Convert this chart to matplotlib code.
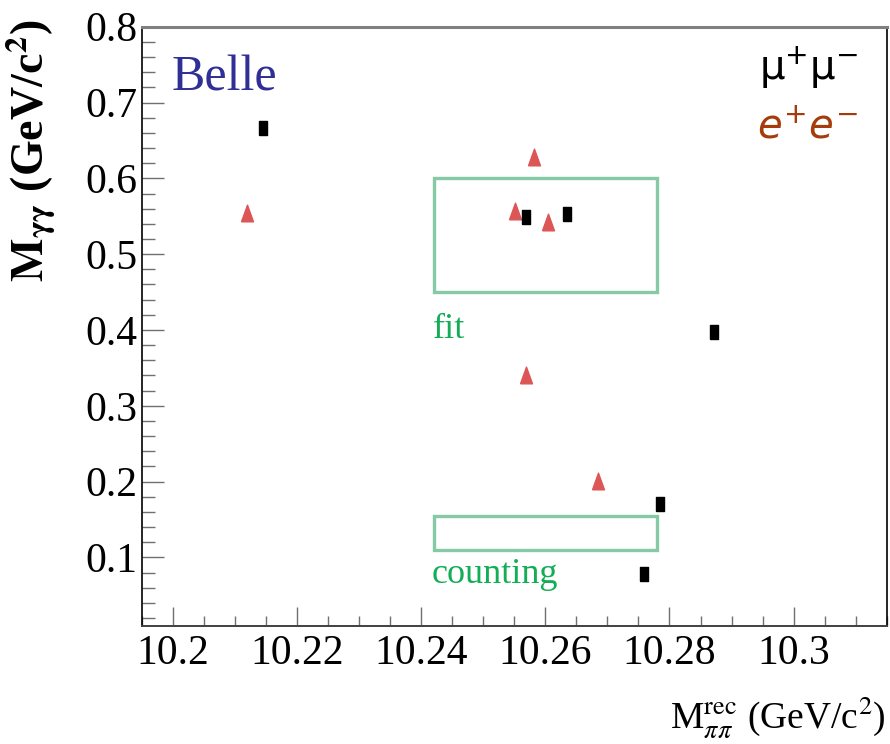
import matplotlib
matplotlib.use("Agg")
import matplotlib.pyplot as plt
from matplotlib.patches import Rectangle

plt.rcParams['mathtext.fontset'] = 'stix'
plt.rcParams['font.family'] = 'serif'
plt.rcParams['font.serif'] = ['Liberation Serif', 'DejaVu Serif']
SERIF = 'Liberation Serif'

# ---- data ----
mumu_x = [10.2145, 10.2569, 10.2635, 10.2872, 10.2784, 10.2759]
mumu_y = [0.667, 0.549, 0.553, 0.398, 0.171, 0.078]
ee_x = [10.2120, 10.2582, 10.2551, 10.2605, 10.2568, 10.2684]
ee_y = [0.554, 0.628, 0.557, 0.543, 0.340, 0.201]
fit_box = (10.242, 10.278, 0.45, 0.60)
count_box = (10.242, 10.278, 0.11, 0.155)
xticks = [10.2, 10.22, 10.24, 10.26, 10.28, 10.3]
xticklabels = ['10.2', '10.22', '10.24', '10.26', '10.28', '10.3']
yticks = [0.1, 0.2, 0.3, 0.4, 0.5, 0.6, 0.7, 0.8]
yticklabels = ['0.1', '0.2', '0.3', '0.4', '0.5', '0.6', '0.7', '0.8']

fig = plt.figure(figsize=(8.9, 7.44), dpi=100)
ax = fig.add_axes([142/890, 1-625.7/744, (886.7-142)/890, (625.7-26.7)/744])
ax.set_xlim(10.195, 10.315)
ax.set_ylim(0.01, 0.8)

rect_marker = [(-0.62, -1), (0.62, -1), (0.62, 1), (-0.62, 1), (-0.62, -1)]
tri_marker = [(-0.72, -1), (0.72, -1), (0, 1), (-0.72, -1)]

green = '#86c9a6'
for (x0, x1, y0, y1) in (fit_box, count_box):
    ax.add_patch(Rectangle((x0, y0), x1 - x0, y1 - y0, fill=False,
                           edgecolor=green, lw=2.4, zorder=2))

ax.plot(ee_x, ee_y, ls='none', marker=tri_marker, ms=12, color='#dc5656',
        mec='#dc5656', zorder=3)
ax.plot(mumu_x, mumu_y, ls='none', marker=rect_marker, ms=9.5, color='black',
        zorder=4)

ax.set_xticks(xticks)
ax.set_xticklabels(xticklabels, family=SERIF)
ax.set_yticks(yticks)
ax.set_yticklabels(yticklabels, family=SERIF)
ax.set_xticks([v / 1000 for v in range(10195, 10316, 5)], minor=True)
ax.set_yticks([v / 100 for v in range(2, 81, 2)], minor=True)

ax.tick_params(axis='both', which='both', direction='in', color='#707070',
               width=1.0, top=False, right=False)
ax.tick_params(axis='y', which='major', length=16, pad=3, labelsize=30)
ax.tick_params(axis='y', which='minor', length=9)
ax.tick_params(axis='x', which='major', length=14, pad=6, labelsize=30)
ax.tick_params(axis='x', which='minor', length=7)

for s in ('left', 'right'):
    ax.spines[s].set_color('black')
    ax.spines[s].set_linewidth(1.2)
ax.spines['top'].set_color('#808080')
ax.spines['top'].set_linewidth(2.2)
ax.spines['bottom'].set_color('#404040')
ax.spines['bottom'].set_linewidth(1.4)

# texts
ax.text(0.0403, 0.894, 'Belle', transform=ax.transAxes, fontsize=36,
        family=SERIF, color='#2f2f95', ha='left', va='baseline')
ax.text(0.9615, 0.911, r'$\mathrm{\mu^{+}\mu^{-}}$', transform=ax.transAxes,
        fontsize=29, color='black', ha='right', va='baseline',
        math_fontfamily='dejavusans')
ax.text(0.9615, 0.814, r'$e^{+}e^{-}$', transform=ax.transAxes,
        fontsize=29, color='#a43c0c', ha='right', va='baseline',
        math_fontfamily='dejavusans')
ax.text(0.3908, 0.4803, 'fit', transform=ax.transAxes, fontsize=26,
        family=SERIF, color='#12ae55', ha='left', va='baseline')
ax.text(0.3894, 0.0713, 'counting', transform=ax.transAxes, fontsize=26,
        family=SERIF, color='#12ae55', ha='left', va='baseline')

fig.text(30/890, 1-20/744, r'$\mathbf{M_{\gamma\gamma}}$ (GeV/c$^{\mathbf{2}}$)',
         rotation=90, ha='center', va='top', fontsize=33, fontweight='bold')
fig.text(886/890, 1-728/744, r'M$^{\rm rec}_{\pi\pi}$ (GeV/c$^{2}$)',
         ha='right', va='baseline', fontsize=27)

fig.savefig('out.png', dpi=100)
